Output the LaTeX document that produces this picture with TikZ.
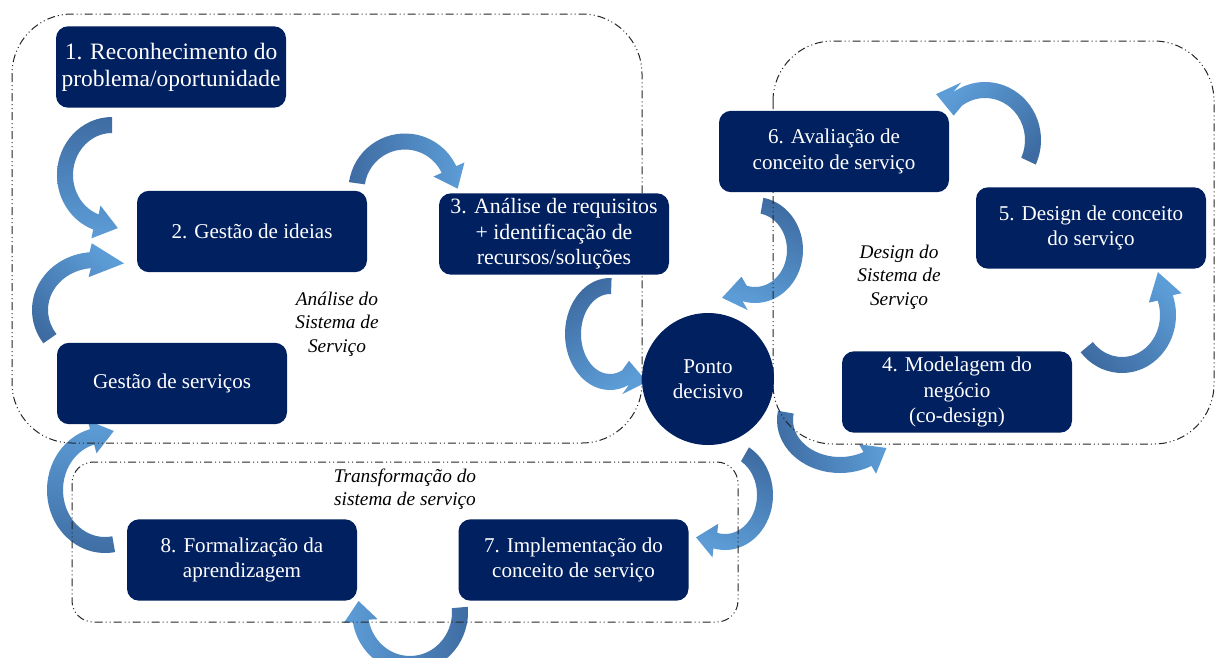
\documentclass[tikz,border=0pt]{standalone}
\usepackage{fontspec}
\setmainfont{Liberation Serif}
\definecolor{navy}{RGB}{0,32,96}
\definecolor{arrdark}{RGB}{62,108,162}
\definecolor{arrlight}{RGB}{93,157,215}

% half width of the arrow band, half width of the head, extra head length
\def\bw{8}
\def\bh{17}
\def\bext{4}

% curved block arrow along an ellipse
% #1,#2 centre  #3,#4 radii  #5 tail angle  #6 head-base angle
% #7,#8 tip  #9 direction of the light end of the shading
\newcommand\bentarrow[9]{%
  \pgfmathsetmacro\bRxo{#3+\bw}%
  \pgfmathsetmacro\bRyo{#4+\bw}%
  \pgfmathsetmacro\bRxi{#3-\bw}%
  \pgfmathsetmacro\bRyi{#4-\bw}%
  \pgfmathsetmacro\bSx{#1+\bRxo*cos(#5)}%
  \pgfmathsetmacro\bSy{#2+\bRyo*sin(#5)}%
  \pgfmathsetmacro\bIx{#1+\bRxi*cos(#6)}%
  \pgfmathsetmacro\bIy{#2+\bRyi*sin(#6)}%
  \pgfmathsetmacro\bBx{#1+#3*cos(#6)}%
  \pgfmathsetmacro\bBy{#2+#4*sin(#6)}%
  \pgfmathsetmacro\bDx{#7-\bBx}%
  \pgfmathsetmacro\bDy{#8-\bBy}%
  \pgfmathsetmacro\bDl{veclen(\bDx,\bDy)}%
  \pgfmathsetmacro\bTx{\bBx+\bDx*(\bDl+\bext)/\bDl}%
  \pgfmathsetmacro\bTy{\bBy+\bDy*(\bDl+\bext)/\bDl}%
  \pgfmathsetmacro\bNx{-\bDy/\bDl}%
  \pgfmathsetmacro\bNy{\bDx/\bDl}%
  \pgfmathsetmacro\bSg{(\bNx*cos(#6)+\bNy*sin(#6))>0 ? 1 : -1}%
  \pgfmathsetmacro\bOx{\bBx+\bSg*\bh*\bNx}%
  \pgfmathsetmacro\bOy{\bBy+\bSg*\bh*\bNy}%
  \pgfmathsetmacro\bQx{\bBx-\bSg*\bh*\bNx}%
  \pgfmathsetmacro\bQy{\bBy-\bSg*\bh*\bNy}%
  \pgfmathsetmacro\bAng{#9-90}%
  \shade[top color=arrlight,bottom color=arrdark,shading angle=\bAng]
    (\bSx,\bSy) arc[start angle=#5,end angle=#6,x radius=\bRxo,y radius=\bRyo]
    -- (\bOx,\bOy) -- (\bTx,\bTy) -- (\bQx,\bQy) -- (\bIx,\bIy)
    arc[start angle=#6,end angle=#5,x radius=\bRxi,y radius=\bRyi] -- cycle;}

\begin{document}
\begin{tikzpicture}[x=0.75pt,y=-0.75pt,
  stagebox/.style={rectangle,rounded corners=9pt,fill=navy,text=white,
    align=center,inner sep=0pt,minimum width=172.5pt,minimum height=61pt,
    font=\fontsize{15.8}{19.2}\selectfont},
  decisionnode/.style={circle,fill=navy,text=white,align=center,inner sep=0pt,
    minimum size=99pt,font=\fontsize{15.8}{19.2}\selectfont},
  groupframe/.style={draw=black!85,line width=0.75pt,
    dash pattern=on 6pt off 2.25pt on 0.75pt off 2.25pt on 0.75pt off 2.25pt},
  grouplabel/.style={align=center,font=\itshape\fontsize{14.5}{17.6}\selectfont}]

\useasboundingbox[fill=white] (0,0) rectangle (1217,657);

% curved arrows between the stages
\bentarrow{112}{175}{47}{50}{270}{110}{114}{227}{-90}
\bentarrow{405}{190}{48.5}{48.5}{188}{335}{456}{185}{0}
\bentarrow{610}{334}{37}{48}{272}{65}{643}{381}{-60}
\bentarrow{95}{310}{55}{50}{145}{265}{120}{263}{45}
\bentarrow{105}{490}{50}{55}{80}{255}{110}{432}{90}
\bentarrow{410}{612}{50}{52}{-5}{170}{359}{605}{180}
\bentarrow{725}{495}{40}{47}{-60}{104}{700}{538}{-110}
\bentarrow{840}{420}{55}{45}{190}{60}{883}{450}{10}
\bentarrow{755}{250}{40}{45}{280}{465}{726}{297}{-110}
\bentarrow{985}{140}{48}{50}{25}{-125}{940}{95}{135}
\bentarrow{1122}{315}{46}{50}{140}{-20}{1159}{276}{45}

% group frames
\draw[groupframe,rounded corners=45pt] (12,14) rectangle (642,443);
\draw[groupframe,rounded corners=45pt] (773,41) rectangle (1214,444);
\draw[groupframe,rounded corners=16pt] (72,462) rectangle (738,622);

% stages
\node[stagebox,font=\fontsize{17.6}{20.4}\selectfont] (n1) at (171,67) {1. Reconhecimento do\\problema/oportunidade};
\node[stagebox] (n2) at (252,231.5) {2. Gestão de ideias};
\node[stagebox,font=\fontsize{16.4}{19.2}\selectfont] (n3) at (554,234) {3. Análise de requisitos\\+ identificação de\\recursos/soluções};
\node[stagebox] (ngs) at (172,383.5) {Gestão de serviços};
\node[decisionnode] (ponto) at (708,379) {Ponto\\decisivo};
\node[stagebox] (n6) at (834,151.5) {6. Avaliação de\\conceito de serviço};
\node[stagebox] (n5) at (1091,228) {5. Design de conceito\\do serviço};
\node[stagebox] (n4) at (957,392) {4. Modelagem do\\negócio\\(co-design)};
\node[stagebox] (n7) at (573.5,560) {7. Implementação do\\conceito de serviço};
\node[stagebox] (n8) at (242,560) {8. Formalização da\\aprendizagem};

% group labels
\node[grouplabel] (lanalise) at (337,324) {Análise do\\Sistema de\\Serviço};
\node[grouplabel] (ldesign) at (899,277) {Design do\\Sistema de\\Serviço};
\node[grouplabel] (ltransf) at (405,489) {Transformação do\\sistema de serviço};
\end{tikzpicture}
\end{document}
